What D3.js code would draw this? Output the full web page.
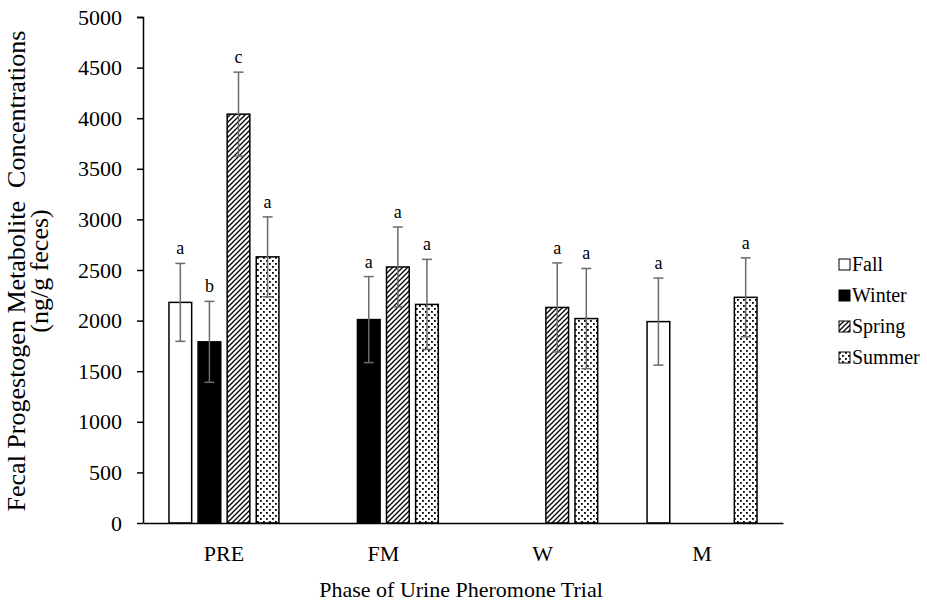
<!DOCTYPE html>
<html>
<head>
<meta charset="utf-8">
<script src="https://cdn.jsdelivr.net/npm/d3@7"></script>
<style>
  body { margin: 0; background: #fff; }
  text { font-family: "Liberation Serif", "Times New Roman", serif; fill: #000; }
</style>
</head>
<body>
<svg id="chart" width="927" height="605"></svg>
<script>
// phases and seasons
var phases = ["PRE", "FM", "W", "M"];
var seasons = ["Fall", "Winter", "Spring", "Summer"];
var yTicks = [0, 500, 1000, 1500, 2000, 2500, 3000, 3500, 4000, 4500, 5000];

// means per season, one entry per phase (null = no data)
var fallMeans   = [2180, null, null, 1990];
var winterMeans = [1790, 2010, null, null];
var springMeans = [4040, 2530, 2130, null];
var summerMeans = [2630, 2160, 2020, 2230];

// error bar half-widths
var fallErr   = [385, null, null, 430];
var winterErr = [400, 425, null, null];
var springErr = [415, 395, 440, null];
var summerErr = [395, 445, 495, 390];

// significance letters
var fallLetters   = ["a", null, null, "a"];
var winterLetters = ["b", "a", null, null];
var springLetters = ["c", "a", "a", null];
var summerLetters = ["a", "a", "a", "a"];

var means = [fallMeans, winterMeans, springMeans, summerMeans];
var errs = [fallErr, winterErr, springErr, summerErr];
var letters = [fallLetters, winterLetters, springLetters, summerLetters];

var FONT = "Liberation Serif";
var svg = d3.select("#chart");
var margin = { left: 143, top: 17 };

// patterns
var defs = svg.append("defs");
var hatch = defs.append("pattern")
    .attr("id", "hatch").attr("patternUnits", "userSpaceOnUse")
    .attr("width", 5).attr("height", 5);
hatch.append("rect").attr("width", 5).attr("height", 5).attr("fill", "#fff");
hatch.append("path").attr("d", "M-1,1 L1,-1 M0,5 L5,0 M4,6 L6,4")
    .attr("stroke", "#000").attr("stroke-width", 1.3);

var dots = defs.append("pattern")
    .attr("id", "dots").attr("patternUnits", "userSpaceOnUse")
    .attr("width", 6).attr("height", 6);
dots.append("rect").attr("width", 6).attr("height", 6).attr("fill", "#fff");
dots.append("rect").attr("x", 0).attr("y", 0).attr("width", 1.8).attr("height", 1.8).attr("fill", "#000");
dots.append("rect").attr("x", 3).attr("y", 3).attr("width", 1.8).attr("height", 1.8).attr("fill", "#000");

var fills = ["#fff", "#000", "url(#hatch)", "url(#dots)"];

var g = svg.append("g").attr("transform", "translate(" + margin.left + "," + margin.top + ")");

var y = d3.scaleLinear().domain([0, 5000]).range([506, 0]);
var x0 = d3.scaleBand().domain(phases).range([0, 640]).paddingInner(0.31).paddingOuter(0.163);
var x1 = d3.scaleBand().domain(seasons).range([0, x0.bandwidth()]).paddingInner(0.22);

// bars
var rows = [];
seasons.forEach(function(s, si) {
    phases.forEach(function(p, pi) {
        if (means[si][pi] !== null) {
            rows.push({ season: s, si: si, phase: p, v: means[si][pi], e: errs[si][pi], l: letters[si][pi] });
        }
    });
});

g.selectAll("rect.bar").data(rows).enter().append("rect")
    .attr("class", "bar")
    .attr("x", function(d) { return x0(d.phase) + x1(d.season); })
    .attr("y", function(d) { return y(d.v); })
    .attr("width", x1.bandwidth())
    .attr("height", function(d) { return y(0) - y(d.v); })
    .attr("fill", function(d) { return fills[d.si]; })
    .attr("stroke", "#000").attr("stroke-width", 1.5);

// error bars
var eb = g.selectAll("g.err").data(rows).enter().append("g").attr("class", "err")
    .attr("transform", function(d) { return "translate(" + (x0(d.phase) + x1(d.season) + x1.bandwidth() / 2) + ",0)"; });
eb.append("line").attr("y1", function(d) { return y(d.v + d.e); })
    .attr("y2", function(d) { return y(d.v - d.e); })
    .attr("stroke", "#6b6b6b").attr("stroke-width", 1.5);
eb.append("line").attr("x1", -5).attr("x2", 5)
    .attr("y1", function(d) { return y(d.v + d.e); }).attr("y2", function(d) { return y(d.v + d.e); })
    .attr("stroke", "#6b6b6b").attr("stroke-width", 1.5);
eb.append("line").attr("x1", -5).attr("x2", 5)
    .attr("y1", function(d) { return y(d.v - d.e); }).attr("y2", function(d) { return y(d.v - d.e); })
    .attr("stroke", "#6b6b6b").attr("stroke-width", 1.5);
eb.append("text").attr("text-anchor", "middle")
    .attr("y", function(d) { return y(d.v + d.e) - 9; })
    .attr("font-family", FONT).attr("font-size", 18)
    .text(function(d) { return d.l; });

// y axis
var yAxis = g.append("g").call(d3.axisLeft(y).tickValues(yTicks).tickSize(6).tickPadding(15).tickFormat(d3.format("d")));
yAxis.attr("font-family", FONT);
yAxis.select(".domain").attr("d", "M-6,0.5H0.5V506.5").attr("stroke", "#000").attr("stroke-width", 1.5);
yAxis.selectAll(".tick line").attr("stroke", "#000").attr("stroke-width", 1.5);
yAxis.selectAll(".tick text").attr("font-family", FONT).attr("font-size", 22);

// x axis
var xAxis = g.append("g").attr("transform", "translate(0,506)")
    .call(d3.axisBottom(x0).tickSize(0).tickPadding(22));
xAxis.attr("font-family", FONT);
xAxis.select(".domain").attr("stroke", "#000").attr("stroke-width", 1.5);
xAxis.selectAll(".tick text").attr("font-family", FONT).attr("font-size", 22);

// axis titles
svg.append("text").attr("x", 461).attr("y", 597).attr("text-anchor", "middle")
    .attr("font-family", FONT).attr("font-size", 22).text("Phase of Urine Pheromone Trial");
var yt = svg.append("text").attr("transform", "translate(25,271) rotate(-90)")
    .attr("text-anchor", "middle").attr("font-family", FONT).attr("font-size", 26);
yt.append("tspan").attr("x", 0).attr("dy", 0).attr("xml:space", "preserve").text("Fecal Progestogen Metabolite  Concentrations");
yt.append("tspan").attr("x", 0).attr("dy", 23).text("(ng/g feces)");

// legend
var leg = svg.append("g").attr("transform", "translate(839,259)");
var li = leg.selectAll("g").data(seasons).enter().append("g")
    .attr("transform", function(d, i) { return "translate(0," + (i * 31) + ")"; });
li.append("rect").attr("width", 11).attr("height", 11).attr("y", 0)
    .attr("fill", function(d, i) { return fills[i]; })
    .attr("stroke", "#000").attr("stroke-width", 1);
li.append("text").attr("x", 13).attr("y", 12).attr("font-family", FONT).attr("font-size", 20).text(function(d) { return d; });
</script>
</body>
</html>
